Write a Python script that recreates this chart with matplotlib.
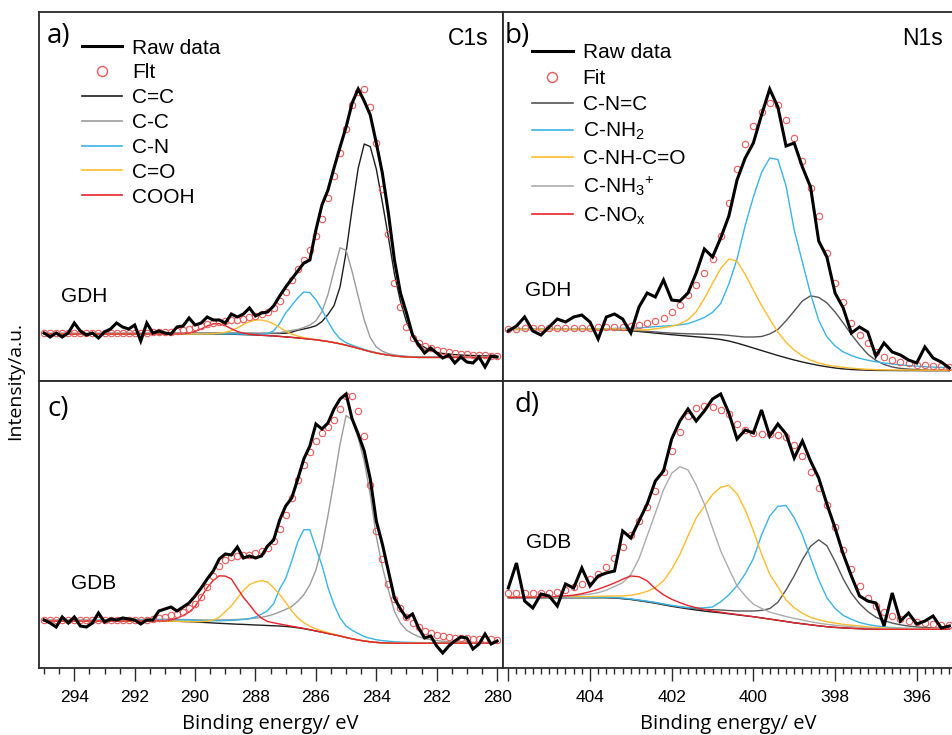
import numpy as np
import matplotlib
matplotlib.use("Agg")
import matplotlib.pyplot as plt
from matplotlib.lines import Line2D
from matplotlib.ticker import MultipleLocator, FuncFormatter

plt.rcParams['font.family'] = ['Liberation Sans', 'DejaVu Sans']
plt.rcParams['mathtext.fontset'] = 'custom'
plt.rcParams['mathtext.rm'] = 'Liberation Sans'
plt.rcParams['mathtext.it'] = 'Liberation Sans:italic'

# binding energy axes (eV), 0.2 eV steps
E_C1s = np.round(np.arange(295.0, 279.9, -0.2), 1)   # 295.0 ... 280.0
E_N1s = np.round(np.arange(406.0, 395.1, -0.2), 1)   # 406.0 ... 395.2

# ---------------- a) GDH C1s ----------------
raw_a = [48, 44, 48, 44, 48,   58, 50, 46, 48, 43,   49, 52, 58, 54, 52,
         56, 40, 58, 48, 50,   48, 47, 54, 55, 63,   56, 58, 64, 61, 61,
         58, 67, 64, 67, 73,   65, 68, 69, 75, 85,   94, 102, 110, 118, 121,
         151, 176, 191, 213, 234,   254, 278, 292, 280, 266,   238, 208, 168, 121, 88,
         68, 46, 36, 28, 33,   28, 23, 26, 18, 24,   19, 18, 24, 14, 25,   24]
fit_a = [48.3, 48.3, 48.3, 48.3, 48.3,   48.3, 48.3, 48.3, 48.3, 48.3,
         48.3, 48.3, 48.3, 48.4, 48.4,   48.4, 48.5, 48.5, 48.6, 48.7,
         48.8, 49.3, 50.0, 51.0, 52.3,   53.8, 55.3, 56.8, 58.0, 59.0,
         59.8, 60.6, 61.5, 62.5, 63.7,   65.0, 66.8, 69.5, 73.5, 80,
         89, 101, 112, 121, 131,   145, 162, 183, 205, 228,
         252, 276, 289, 292, 274,   238, 192, 147, 98, 74,
         54, 43, 38.5, 35.5, 33,   31, 30, 29, 28, 27.5,
         27, 26.5, 26, 25.6, 25.2,   25]
bg_a = [47.0] * 30 + [
         47.0, 46.8, 46.6, 46.4, 46.2,   46.0, 45.7, 45.4, 45.1, 44.6,
         44.1, 43.6, 43.1, 42.5, 41.9,   41.2, 40.4, 39.5, 38.4, 37.2,
         35.8, 34.3, 32.7, 31.0, 29.4,   28.0, 26.8, 25.9, 25.1, 24.5,
         24.1, 23.8, 23.6, 23.6, 23.6] + [23.6] * 11
# peak heights above background
cc_a = [0.5] * 10 + [0.6] * 10 + [0.7] * 5 + [
        0.8, 0.8, 0.9, 0.9, 1.0,   1.0, 1.1, 1.2, 1.3, 1.4,   1.6, 1.8, 2.1, 2.5, 3.0,
        3.7, 5.3, 7.7, 9.5, 11.5,   14, 19, 27, 37, 57,   93, 138, 180, 206, 205,
        184, 152, 118, 82, 55,   35, 22, 14, 10, 7,   5, 4, 3.3, 2.8, 2.4,
        2.1, 1.9, 1.7, 1.5, 1.4,   1.3]
c_c_a = [0.5] * 10 + [0.6] * 10 + [0.7] * 5 + [
        0.8, 0.9, 1.0, 1.1, 1.2,   1.3, 1.4, 1.5, 1.6, 1.7,   1.8, 2.1, 2.5, 3.0, 3.6,
        5.5, 7.0, 8.5, 11, 14,   19, 29, 47, 72, 96,   95, 75, 52, 30, 14,
        6, 3, 1.5, 1.0, 0.8] + [0.6] + [0.5] * 15
cn_a = [0.3] * 30 + [
        0.3, 0.3, 0.4, 0.4, 0.5,   0.5, 1.0, 2.0, 5, 13,   24, 32, 40, 46.5, 46.5,
        40, 31, 20, 11, 5,   2.5, 1.5, 1.0, 0.7, 0.5] + [0.3] * 21
co_a = [0] * 27 + [
        0.1, 0.3, 0.8,   1.7, 3.5, 6.5, 10, 13,   15, 15.3, 14.3, 12, 9,
        5.8, 3.3, 1.8, 0.9, 0.4] + [0] * 31
cooh_a = [0] * 23 + [0.3, 1.0,   2.5, 5, 8, 10.2, 10.3,   8.3, 5.5, 3, 1.4, 0.6,
                     0.2] + [0] * 40

# ---------------- c) GDB C1s ----------------
raw_c = [48, 45, 41, 51, 45,   51, 42, 41, 45, 55,   46, 49, 48, 50, 49,
         48, 44, 48, 48, 57,   59, 61, 57, 61, 65,   72, 80, 89, 97, 109,
         114, 113, 121, 110, 112,   110, 112, 122, 128, 148,   162, 170, 189, 209, 222,
         244, 239, 245, 259, 269,   274, 249, 234, 217, 189,   147, 124, 97, 70, 59,
         50, 54, 40, 30, 32,   22, 15, 22, 27, 31,   30, 19, 24, 34, 24,   27]
fit_c = [48.0] * 18 + [
         48.7, 49.7,   51.5, 52.8, 54.3, 56.5, 60,   64.5, 71.5, 81, 92, 102,
         108, 111, 112.5, 113, 113.5,   115, 117, 120, 127, 139,
         153, 170, 188, 203, 216,   227, 235, 241, 248, 259,
         272, 272, 257, 232, 183,   137, 109, 84, 69, 60,
         51, 45.5, 41, 37.5, 35,   33.5, 32, 31.2, 30.5, 30,
         29.6, 29.3, 29, 28.8, 28.6,   28.5]
bg_c = [47.0] * 21 + [
        46.9, 46.7, 46.5, 46.3,   46.0, 45.7, 45.4, 45.0, 44.7,
        44.4, 44.1, 43.8, 43.6, 43.3,   43.0, 42.8, 42.5, 42.2, 42.0,
        41.6, 41.0, 40.2, 39.3, 38.2,   37.0, 35.8, 34.5, 33.3, 32.0,
        30.5, 29.2, 28.0, 27.0, 26.2,   25.6, 25.2, 25.0, 24.8, 24.8] + [24.8] * 16
cc_c = [0] * 76
c_c_c = [1.0] * 10 + [
        1.2, 1.2, 1.3, 1.3, 1.4,   1.4, 1.5, 1.5, 1.6, 1.7,   1.8, 1.9, 2.0, 2.0, 2.1,
        2.2, 2.4, 2.7, 3.0, 3.4,   3.8, 4.2, 4.7, 5.3, 6.0,   6.8, 7.8, 9.5, 11.5, 14,
        17, 20.5, 26.5, 34, 45,   61, 85, 118, 154, 192,   222, 219, 202, 180, 147,
        106, 76, 53, 32, 20,   13, 9.5, 6.5, 4.7, 3.5,   2.6, 2.0, 1.6, 1.3, 1.1,
        0.9, 0.8, 0.7, 0.6, 0.5,   0.5]
cn_c = [0.5] * 10 + [
        0.7, 0.7, 0.8, 0.8, 0.9,   0.9, 1.0, 1.0, 1.1, 1.2,   1.2, 1.3, 1.4, 1.5, 1.6,
        1.6, 1.7, 1.8, 2.2, 2.6,   3.0, 3.5, 4.2, 5.0, 6.0,   8, 11, 15, 22, 37,
        48, 66, 86, 99, 100,   83, 67, 46, 30, 18,   11.5, 8.5, 6.5, 4.5, 3.5,
        2.7, 2.2, 1.8, 1.4, 1.1,   0.9, 0.7, 0.6, 0.5, 0.5] + [0.4] * 11
co_c = [0] * 25 + [
        0.3, 0.7, 1.5, 3, 6,   12, 18, 26, 34, 40,   43, 44.5, 43.5, 38, 31.5,
        24, 16, 10, 6, 3.5,   2.2, 1.3, 0.8, 0.5, 0.3] + [0] * 26
cooh_c = [0] * 21 + [
        1.3, 3, 6, 9.5,   15.5, 25, 35, 42.5, 47.5,   47.5, 45, 36, 27, 20,
        12.5, 7, 4, 3, 2,   1.3, 0.8, 0.5, 0.3, 0.2] + [0] * 31

# ---------------- b) GDH N1s ----------------
raw_b = [50, 55, 64, 50, 46,   54, 62, 59, 64, 66,   59, 42, 64, 67, 62,
         48, 74, 88, 84, 101,   81, 80, 88, 108, 132,   124, 143, 165, 201, 223,
         238, 266, 292, 274, 235,   238, 214, 194, 140, 124,   88, 73, 48, 54, 49,
         25, 38, 29, 26, 21,   18, 34, 23, 19, 13]
fit_b = [52.5, 52.5, 52.6, 52.6, 52.7,   52.8, 52.9, 53.0, 53.1, 53.3,
         53.4, 53.6, 53.8, 54.0, 54.5,   55.3, 56.5, 58, 60, 63,
         69, 76, 86, 96, 108,   122, 145, 178, 212, 237,
         255, 269, 278, 276, 261,   243, 220, 193, 165, 128,
         98, 79, 58, 46, 38,   29, 24, 21, 19, 17.7,
         16.5, 15.7, 15, 14.6, 14.3]
bg_b = [51.5] * 13 + [
        51.4, 51.0,   50.3, 49.5, 48.7, 47.9, 47.1,   46.3, 45.6, 44.9, 44.2, 43.5,
        42.6, 41.5, 40.0, 37.9, 35.5,   33.0, 30.5, 28.0, 25.5, 23.2,
        21.0, 19.0, 17.2, 15.6, 14.2,   13.0, 12.1, 11.5, 11.1, 10.8,
        10.6, 10.5, 10.5, 10.4, 10.4,   10.4, 10.3, 10.3, 10.3, 10.3]
cnc_b = [0.2] * 13 + [
        0.3, 0.4,   0.5, 0.7, 0.9, 1.1, 1.3,   1.6, 1.9, 2.3, 2.8, 3.3,
        4, 4.8, 5.6, 6.8, 8.5,   11, 14, 19, 26, 37,   49, 61, 68, 68, 64,
        56, 46, 35, 25, 16,   10, 6, 3.5, 2.2, 1.5,   1.0, 0.8, 0.6, 0.5, 0.4]
nh2_b = [0.5] * 12 + [
        0.8, 1.2, 1.8,   2.5, 3.5, 5, 6.5, 7.8,   9, 10.5, 12.5, 16, 20,
        26, 36, 57, 84, 120,   151, 178, 195, 196, 172,   130, 100, 70, 45, 30,
        22, 17, 14, 11.6, 10,   8.6, 7.5, 6.5, 5.7, 5.0,   4.5, 4.0, 3.6, 3.3, 3.0]
amide_b = [0.3] * 10 + [
        0.4, 0.5, 0.6, 0.7, 0.8,   1.0, 1.5, 2.5, 4.3, 6.2,   8.5, 11.5, 16.5, 25, 39,
        55, 71, 82, 82, 71,   58, 45, 34, 23.5, 15.5,   10, 6, 3.6, 2.4, 1.8,
        1.7, 1.6, 1.3, 1.1, 0.9,   0.7, 0.6, 0.5, 0.5, 0.5,   0.5, 0.5, 0.5, 0.5, 0.5]
nh3_b = [0] * 55
nox_b = [0] * 55

# ---------------- d) GDB N1s ----------------
raw_d = [80, 105, 67, 60, 74,   72, 62, 84, 80, 100,   82, 92, 95, 97, 137,
         130, 147, 164, 187, 197,   229, 247, 259, 247, 257,   269, 274, 255, 229, 238,
         235, 258, 232, 244, 234,   210, 227, 207, 190, 164,   140, 114, 92, 72, 67,
         65, 42, 75, 47, 55,   44, 47, 52, 40, 42]
fit_d = [75.3] * 6 + [
         76.5, 78, 81, 84.5,   89, 94.5, 101.5, 110.5, 121,
         133.5, 147, 161, 177, 196,   217.5, 236.5, 252, 260, 262,
         261, 258, 254, 244, 238,   235.3, 234, 233.7, 233.5, 231,
         223, 212, 196.5, 180, 163,   141, 118, 99, 82, 70,
         62, 56.5, 52, 49.5, 47.3,   46, 45, 44, 43.2, 42.7]
bg_d = [70.3] * 13 + [
        70.0, 69.3,   68.5, 67.3, 66.1, 64.8, 63.2,   61.7, 60.4, 59.1, 58.0, 56.9,
        56.0, 55.2, 54.2, 53.2, 52.2,   51.3, 50.1, 48.9, 47.7, 46.5,
        45.2, 44.2, 43.2, 42.2, 41.3,   40.6, 40.1, 39.7, 39.3, 39.0,
        38.8, 38.7, 38.7, 38.7, 38.7,   38.7, 38.7, 38.7, 38.7, 38.7]
cnc_d = [0.2] * 15 + [
        0.3, 0.3, 0.4, 0.4, 0.5,   0.6, 0.7, 0.8, 1.2, 1.7,   2.3, 2.8, 3.3, 3.8, 4.8,
        5.7, 7.5, 10.5, 18, 31.5,   47, 64, 78.5, 86, 81,   66, 49, 35, 25, 17.5,
        12, 8.8, 6.2, 4.5, 3.2,   2.4, 1.8, 1.4, 1.1, 1.0]
nh2_d = [0.3] * 10 + [
        0.4, 0.4, 0.5, 0.5, 0.6,   0.6, 0.7, 0.7, 0.8, 0.8,   0.9, 1.0, 1.3, 2.0, 3.3,
        5, 11, 19, 29, 42,   58, 83, 103, 114, 116,   105, 89, 67, 46, 29,
        19, 12.5, 9, 6.2, 4.5,   3.3, 2.5, 1.7, 1.3, 1.0,   0.8, 0.6, 0.5, 0.4, 0.4]
amide_d = [1.0] * 10 + [
        1.1, 1.3, 1.6, 2.0, 2.8,   4.2, 7, 10.5, 15.5, 24,   37, 53, 73, 92, 105,
        117.5, 125.5, 128.5, 121, 106,   86, 64, 45, 33.5, 21.5,   15, 10.5, 7.5, 6.0, 5.0,
        4.3, 3.6, 3.1, 2.7, 2.1,   1.6, 1.3, 1.0, 0.9, 0.8,   0.7, 0.7, 0.6, 0.6, 0.6]
nh3_d = [0.5, 0.5, 0.6, 0.6, 0.7,   0.8, 1.2, 1.6, 2.1, 2.8,   3.6, 5.0, 7.5, 11.5, 16,
         25, 42, 66, 90, 115,   133, 141, 139, 125, 107,   84, 62, 45, 29, 20,
         12.5, 9.5, 7, 5.9, 5.0,   4.4, 3.8, 3.1, 2.6, 2.4,   2.1, 1.9, 1.7, 1.1, 0.9,
         0.6, 0.5, 0.4, 0.4, 0.3,   0.3, 0.3, 0.3, 0.3, 0.3]
nox_d = [0.1, 0.2, 0.3, 0.5, 0.6,   0.8, 1.2, 1.8, 2.5, 4,   6, 8.5, 11.5, 15, 19.5,
         23.5, 24, 21, 14.5, 10,   7, 5, 3.3, 2.3, 1.6,   1.0, 0.6, 0.4, 0.3, 0.2] + [0] * 25

c1s_names = ['C=C', 'C-C', 'C-N', 'C=O', 'COOH']
n1s_names = ['C-N=C', 'C-NH$_2$', 'C-NH-C=O', 'C-NH$_3$$^{+}$', 'C-NO$_\\mathrm{x}$']
c1s_colors = ['#1e1e1e', '#9b9b9b', '#3ab4e6', '#fcbc2c', '#e8232a']
n1s_colors = ['#555555', '#3ab4e6', '#fcbc2c', '#acacac', '#e8232a']
FIT_RED = '#ec5858'

W, H = 952, 735
fig = plt.figure(figsize=(W / 100, H / 100), dpi=100)


def px_axes(x0, y0, x1, y1):
    return fig.add_axes([x0 / W, 1 - y1 / H, (x1 - x0) / W, (y1 - y0) / H])


ax_a = px_axes(39, 12, 502.5, 381)
ax_b = px_axes(502.5, 12, 955, 381)
ax_c = px_axes(39, 381, 502.5, 668)
ax_d = px_axes(502.5, 381, 955, 668)


def draw(ax, E, raw, fit, bg, comps, colors):
    bg = np.asarray(bg, dtype=float)
    ax.plot(E, bg, color='#1e1e1e', lw=1.0, zorder=2)
    for h, c in zip(comps, colors):
        h = np.asarray(h, dtype=float)
        if h.max() > 0:
            ax.plot(E, bg + h, color=c, lw=1.0, zorder=2)
    ax.plot(E, fit, ls='none', marker='o', ms=4.6, mfc='none', mec=FIT_RED,
            mew=0.8, zorder=3)
    ax.plot(E, raw, color='black', lw=2.2, zorder=4, solid_joinstyle='miter')


draw(ax_a, E_C1s, raw_a, fit_a, bg_a, [cc_a, c_c_a, cn_a, co_a, cooh_a], c1s_colors)
draw(ax_c, E_C1s, raw_c, fit_c, bg_c, [cc_c, c_c_c, cn_c, co_c, cooh_c], c1s_colors)
draw(ax_b, E_N1s, raw_b, fit_b, bg_b, [cnc_b, nh2_b, amide_b, nh3_b, nox_b], n1s_colors)
draw(ax_d, E_N1s, raw_d, fit_d, bg_d, [cnc_d, nh2_d, amide_d, nh3_d, nox_d], n1s_colors)

for ax in (ax_a, ax_c):
    ax.set_xlim(295.169, 279.821)
for ax in (ax_b, ax_d):
    ax.set_xlim(406.142, 395.063)
ax_a.set_ylim(0, 369)
ax_b.set_ylim(0, 369)
ax_c.set_ylim(0, 287)
ax_d.set_ylim(0, 287)

for ax in (ax_a, ax_b, ax_c, ax_d):
    for s in ax.spines.values():
        s.set_linewidth(1.3)
        s.set_color('#2a2a2a')
    ax.tick_params(left=False, labelleft=False)
for ax in (ax_a, ax_b):
    ax.tick_params(bottom=False, labelbottom=False)

ax_c.xaxis.set_major_locator(MultipleLocator(2))
ax_c.xaxis.set_minor_locator(MultipleLocator(0.5))
ax_d.xaxis.set_major_locator(MultipleLocator(2))
ax_d.xaxis.set_minor_locator(MultipleLocator(0.2))
ax_c.xaxis.set_major_formatter(FuncFormatter(lambda v, p: '%d' % round(v)))
ax_d.xaxis.set_major_formatter(FuncFormatter(lambda v, p: '' if v > 405 else '%d' % round(v)))
for ax in (ax_c, ax_d):
    ax.tick_params(axis='x', which='major', direction='out', length=9, width=1.0,
                   labelsize=12.5, pad=7, color='#2a2a2a')
    ax.tick_params(axis='x', which='minor', direction='out', length=4.5, width=1.0,
                   color='#2a2a2a')
    ax.set_xlabel('Binding energy/ eV', family='Open Sans', fontsize=14.5, labelpad=6)

fig.text(15 / W, 1 - 381 / H, 'Intensity/a.u.', rotation=90, ha='center', va='center',
         family='Open Sans', fontsize=14)

# panel letters, core level and sample labels
for ax, lab, x, y in [(ax_a, 'a)', 0.016, 0.935), (ax_b, 'b)', 0.005, 0.935),
                      (ax_c, 'c)', 0.019, 0.902), (ax_d, 'd)', 0.026, 0.916)]:
    ax.text(x, y, lab, transform=ax.transAxes, ha='left', va='center',
            family='Open Sans', fontsize=20)
ax_a.text(0.969, 0.929, 'C1s', transform=ax_a.transAxes, ha='right', va='center', fontsize=16.5)
ax_b.text(0.973, 0.927, 'N1s', transform=ax_b.transAxes, ha='right', va='center', fontsize=16.5)
ax_a.text(0.047, 0.230, 'GDH', transform=ax_a.transAxes, ha='left', va='center', fontsize=15)
ax_b.text(0.049, 0.245, 'GDH', transform=ax_b.transAxes, ha='left', va='center', fontsize=15)
ax_c.text(0.068, 0.293, 'GDB', transform=ax_c.transAxes, ha='left', va='center', fontsize=15)
ax_d.text(0.052, 0.439, 'GDB', transform=ax_d.transAxes, ha='left', va='center', fontsize=15)


def legend_handles(colors):
    hs = [Line2D([], [], color='black', lw=2.2),
          Line2D([], [], ls='none', marker='o', ms=7.2, mfc='none', mec=FIT_RED, mew=1.0)]
    hs += [Line2D([], [], color=c, lw=1.2) for c in colors]
    return hs


ax_a.legend(legend_handles(c1s_colors), ['Raw data', 'Flt'] + c1s_names,
            loc='upper left', bbox_to_anchor=(0.092, 0.928), frameon=False,
            fontsize=15, borderpad=0, borderaxespad=0, handlelength=1.94,
            handletextpad=0.47, labelspacing=0.28)
ax_b.legend(legend_handles(n1s_colors), ['Raw data', 'Fit'] + n1s_names,
            loc='upper left', bbox_to_anchor=(0.0645, 0.915), frameon=False,
            fontsize=15, borderpad=0, borderaxespad=0, handlelength=1.97,
            handletextpad=0.48, labelspacing=0.33)

fig.savefig('out.png', dpi=100)
